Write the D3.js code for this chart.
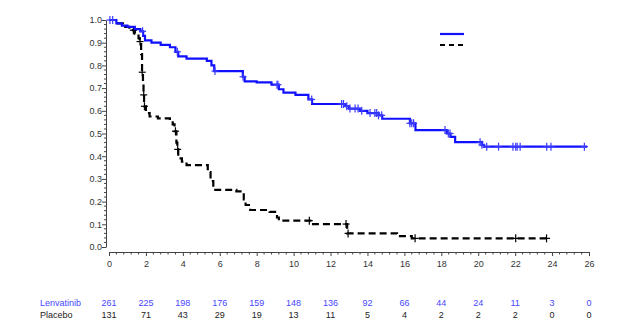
<!DOCTYPE html>
<html>
<head>
<meta charset="utf-8">
<script src="https://cdn.jsdelivr.net/npm/d3@7"></script>
<style>
  html, body { margin: 0; padding: 0; background: #fff; }
  svg { display: block; font-family: "Liberation Sans", Arial, sans-serif; }
</style>
</head>
<body>
<div id="chart"></div>
<script>
// Kaplan-Meier steps: [month, survival after the step]
const lenvatinibSteps = [
  [0, 1.0], [0.4, 0.985], [0.7, 0.975], [1.0, 0.97], [1.4, 0.96], [1.7, 0.95],
  [1.85, 0.93], [1.95, 0.91], [2.3, 0.90], [2.8, 0.89], [3.3, 0.88], [3.6, 0.86],
  [3.75, 0.84], [4.2, 0.83], [5.3, 0.82], [5.55, 0.80], [5.7, 0.775], [7.25, 0.75],
  [7.35, 0.73], [8.0, 0.725], [8.8, 0.715], [9.2, 0.695], [9.45, 0.68], [10.1, 0.67],
  [10.8, 0.65], [11.0, 0.63], [12.8, 0.62], [13.0, 0.61], [13.6, 0.60], [14.0, 0.59],
  [14.6, 0.58], [14.8, 0.565], [16.3, 0.545], [16.6, 0.515], [18.3, 0.50], [18.5, 0.485],
  [18.75, 0.462], [20.2, 0.45], [20.3, 0.442]
];
const lenvatinibEnd = 25.9;
const lenvatinibCensored = [
  0.05, 0.2, 1.82, 3.7, 5.74, 7.26, 9.1, 9.15, 10.98, 12.6, 12.7, 12.88, 13.05, 13.33,
  13.49, 13.69, 14.14, 14.4, 14.5, 14.6, 14.77, 16.3, 16.4, 16.5, 18.2, 18.38, 18.47,
  20.1, 20.2, 20.46, 21.1, 21.88, 22.03, 22.11, 22.27, 23.71, 23.94, 25.75
];

const placeboSteps = [
  [0, 1.0], [0.4, 0.985], [0.75, 0.97], [1.1, 0.955], [1.4, 0.94], [1.6, 0.92],
  [1.66, 0.905], [1.74, 0.85], [1.79, 0.77], [1.84, 0.72], [1.87, 0.67], [1.9, 0.62],
  [2.0, 0.59], [2.2, 0.575], [2.65, 0.567], [3.3, 0.556], [3.45, 0.54], [3.55, 0.51],
  [3.65, 0.46], [3.7, 0.43], [3.75, 0.39], [3.95, 0.376], [4.2, 0.361], [5.35, 0.33],
  [5.5, 0.29], [5.65, 0.252], [6.9, 0.245], [7.3, 0.21], [7.4, 0.185], [7.65, 0.163],
  [8.7, 0.155], [9.1, 0.13], [9.2, 0.116], [10.98, 0.101], [12.9, 0.06], [15.6, 0.048],
  [16.4, 0.038]
];
const placeboEnd = 23.9;
const placeboCensored = [1.32, 1.68, 1.8, 1.88, 1.92, 3.6, 3.72, 10.85, 12.84, 12.95, 16.58, 22.03, 23.7];

// Number at risk
const riskTimes = [0, 2, 4, 6, 8, 10, 12, 14, 16, 18, 20, 22, 24, 26];
const lenvatinibAtRisk = [261, 225, 198, 176, 159, 148, 136, 92, 66, 44, 24, 11, 3, 0];
const placeboAtRisk = [131, 71, 43, 29, 19, 13, 11, 5, 4, 2, 2, 2, 0, 0];

const xTicks = d3.range(0, 27, 2);
const yTicks = d3.range(0, 11).map(d => d / 10);

(function () {
  const w = 642, h = 324;
  const blue = '#1010ff';
  const axisColor = '#444';

  const svg = d3.select('#chart').append('svg')
    .attr('width', w)
    .attr('height', h);

  const x = d3.scaleLinear().domain([0, 26]).range([109, 589]);
  const y = d3.scaleLinear().domain([0, 1]).range([247, 20]);

  // survival value at time t for a step list
  function survAt(steps, t) {
    let s = steps[0][1];
    for (const [tt, v] of steps) { if (tt <= t) s = v; }
    return s;
  }

  // Axes (offset from the data area, SAS style)
  const yAxis = d3.axisLeft(y)
    .tickValues(yTicks)
    .tickFormat(d3.format('.1f'))
    .tickSize(4)
    .tickSizeOuter(0);
  const gy = svg.append('g')
    .attr('transform', 'translate(106,0)')
    .call(yAxis);
  gy.selectAll('.tick').filter(d => false).remove();
  gy.append('g').selectAll('line')
    .data(d3.range(0, 1.0001, 0.02).filter(d => Math.round(d * 100) % 10 !== 0))
    .join('line')
    .attr('x1', 0).attr('x2', -2)
    .attr('y1', d => y(d)).attr('y2', d => y(d));

  const xAxis = d3.axisBottom(x)
    .tickValues(xTicks)
    .tickFormat(d3.format('d'))
    .tickSize(4)
    .tickSizeOuter(0);
  const gx = svg.append('g')
    .attr('transform', 'translate(0,252)')
    .call(xAxis);
  gx.append('g').selectAll('line')
    .data(d3.range(0, 26.001, 0.4).filter(d => Math.abs(d / 2 - Math.round(d / 2)) > 0.01))
    .join('line')
    .attr('x1', d => x(d)).attr('x2', d => x(d))
    .attr('y1', 0).attr('y2', 2.5);

  [gx, gy].forEach(g => {
    g.selectAll('path, line').attr('stroke', axisColor).attr('stroke-width', 1);
    g.selectAll('text')
      .attr('fill', '#333')
      .attr('font-size', 9)
      .attr('font-family', '"Liberation Sans", Arial, sans-serif');
  });
  gy.selectAll('.tick text').attr('x', -4);
  gx.selectAll('.tick text').attr('y', 9);

  // Step curves
  function stepPoints(steps, end) {
    const pts = steps.map(d => [d[0], d[1]]);
    pts.push([end, steps[steps.length - 1][1]]);
    return pts;
  }
  const line = d3.line()
    .x(d => x(d[0]))
    .y(d => y(d[1]))
    .curve(d3.curveStepAfter);

  const series = [
    { steps: placeboSteps, end: placeboEnd, cens: placeboCensored, color: '#000', dash: '7,4', mark: '#000' },
    { steps: lenvatinibSteps, end: lenvatinibEnd, cens: lenvatinibCensored, color: blue, dash: null, mark: '#3a3aff' }
  ];

  series.forEach(s => {
    svg.append('path')
      .datum(stepPoints(s.steps, s.end))
      .attr('d', line)
      .attr('fill', 'none')
      .attr('stroke', s.color)
      .attr('stroke-width', 2.2)
      .attr('stroke-dasharray', s.dash);

    const marks = svg.append('g')
      .selectAll('g')
      .data(s.cens.map(t => [t, survAt(s.steps, t)]))
      .join('g')
      .attr('transform', d => `translate(${x(d[0])},${y(d[1])})`);
    marks.append('line')
      .attr('x1', -3.5).attr('x2', 3.5).attr('y1', 0).attr('y2', 0);
    marks.append('line')
      .attr('x1', 0).attr('x2', 0).attr('y1', -4).attr('y2', 4);
    marks.selectAll('line')
      .attr('stroke', s.mark)
      .attr('stroke-width', 1.2);
  });

  // Legend (line samples only)
  const legend = svg.append('g').attr('transform', 'translate(440,0)');
  legend.append('line')
    .attr('x1', 0).attr('x2', 24).attr('y1', 34).attr('y2', 34)
    .attr('stroke', blue).attr('stroke-width', 2.2);
  legend.append('line')
    .attr('x1', 0).attr('x2', 24).attr('y1', 45).attr('y2', 45)
    .attr('stroke', '#000').attr('stroke-width', 2.2)
    .attr('stroke-dasharray', '5,4');

  // Number-at-risk table
  const risk = [
    { name: 'Lenvatinib', values: lenvatinibAtRisk, color: '#4646ff', yPos: 305.5 },
    { name: 'Placebo', values: placeboAtRisk, color: '#222', yPos: 317.5 }
  ];
  risk.forEach(r => {
    svg.append('text')
      .attr('x', 40)
      .attr('y', r.yPos)
      .attr('font-size', 9)
      .attr('fill', r.color)
      .text(r.name);
    svg.append('g')
      .selectAll('text')
      .data(r.values)
      .join('text')
      .attr('x', (d, i) => x(riskTimes[i]))
      .attr('y', r.yPos)
      .attr('text-anchor', 'middle')
      .attr('font-size', 9)
      .attr('fill', r.color)
      .text(d => d);
  });
})();
</script>
</body>
</html>
